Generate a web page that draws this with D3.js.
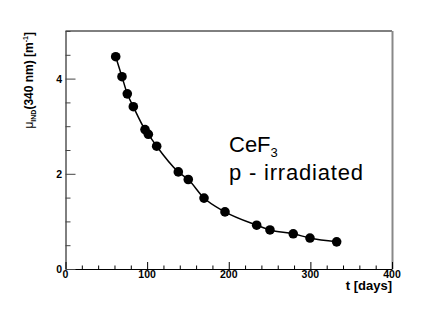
<!DOCTYPE html>
<html>
<head>
<meta charset="utf-8">
<script src="https://cdn.jsdelivr.net/npm/d3@7"></script>
<style>
  body { margin: 0; background: #fff; }
  text { font-family: "Liberation Sans", Arial, sans-serif; }
</style>
</head>
<body>
<div id="chart"></div>
<script>
// CONST and GLOBALS
let width = 436,
  height = 316;

// data: t [days] and mu_IND [1/m]
let days = [61.5, 69.2, 75.7, 83.1, 97.4, 101.5, 111.7, 138.2, 150.4, 169.7, 195.4, 234.2, 250.5, 279, 299.5, 332.2];
let mu = [4.46, 4.04, 3.68, 3.41, 2.93, 2.83, 2.58, 2.04, 1.88, 1.49, 1.2, 0.92, 0.82, 0.74, 0.65, 0.57];
let xTicks = [0, 100, 200, 300, 400];
let yTicks = [0, 2, 4];

let points = days.map((d, i) => ({ t: d, mu: mu[i] }));

let xScale = d3.scaleLinear().domain([0, 400]).range([65.5, 392]);
let yScale = d3.scaleLinear().domain([0, 5]).range([269, 31]);

let svg = d3
  .select('#chart')
  .append('svg')
  .attr('width', width)
  .attr('height', height);

// frame
svg.append('line')
  .attr('x1', xScale(0)).attr('x2', xScale(400))
  .attr('y1', yScale(5)).attr('y2', yScale(5))
  .attr('stroke', '#000').attr('stroke-width', 1);
svg.append('line')
  .attr('x1', xScale(400) + 0.5).attr('x2', xScale(400) + 0.5)
  .attr('y1', yScale(5)).attr('y2', yScale(0))
  .attr('stroke', '#888').attr('stroke-width', 2);

// x axis, ticks pointing up
let xAxis = d3.axisTop(xScale).tickValues(d3.range(0, 401, 20)).tickSizeOuter(0).tickFormat('');
let gx = svg.append('g')
  .attr('transform', `translate(0,${yScale(0)})`)
  .call(xAxis);
gx.selectAll('.tick line')
  .attr('y2', d => (d % 100 === 0 ? -7 : -3.5));
gx.select('.domain').attr('stroke', '#000');

svg.append('g')
  .selectAll('text')
  .data(xTicks)
  .join('text')
  .attr('x', d => xScale(d))
  .attr('y', 278)
  .attr('text-anchor', 'middle')
  .attr('font-size', 10.5)
  .attr('font-weight', 'bold')
  .text(d => d);

// y axis, ticks pointing right
let yAxis = d3.axisRight(yScale).tickValues(d3.range(0, 5.01, 0.5)).tickSizeOuter(0).tickFormat('');
let gy = svg.append('g')
  .attr('transform', `translate(${xScale(0)},0)`)
  .call(yAxis);
gy.selectAll('.tick line')
  .attr('x2', d => (d % 2 === 0 ? 10 : 5))
  .attr('stroke', '#444');
gy.select('.domain').attr('stroke', '#000');

svg.append('g')
  .selectAll('text')
  .data(yTicks)
  .join('text')
  .attr('x', 62)
  .attr('y', d => yScale(d) + 4)
  .attr('text-anchor', 'end')
  .attr('font-size', 10.5)
  .attr('font-weight', 'bold')
  .text(d => d);

// axis titles
svg.append('text')
  .attr('x', 392)
  .attr('y', 290)
  .attr('text-anchor', 'end')
  .attr('font-size', 13)
  .attr('font-weight', 'bold')
  .text('t [days]');

let yTitle = svg.append('text')
  .attr('transform', 'translate(33,32) rotate(-90)')
  .attr('text-anchor', 'end')
  .attr('font-size', 12)
  .attr('font-weight', 'bold');
yTitle.append('tspan').attr('font-weight', 'normal').text('μ');
yTitle.append('tspan').attr('font-size', 7).attr('dy', 3).text('IND');
yTitle.append('tspan').attr('dy', -3).text('(340 nm) [m');
yTitle.append('tspan').attr('font-size', 7).attr('dy', -5).text('-1');
yTitle.append('tspan').attr('dy', 5).text(']');

// curve through the measurements
let line = d3.line()
  .x(d => xScale(d.t))
  .y(d => yScale(d.mu))
  .curve(d3.curveMonotoneX);

svg.append('path')
  .datum(points)
  .attr('d', line)
  .attr('fill', 'none')
  .attr('stroke', '#000')
  .attr('stroke-width', 1.5);

svg.append('g')
  .selectAll('circle')
  .data(points)
  .join('circle')
  .attr('cx', d => xScale(d.t))
  .attr('cy', d => yScale(d.mu))
  .attr('r', 4.8)
  .attr('fill', '#000');

// labels
let lab = svg.append('text')
  .attr('x', 229)
  .attr('y', 152)
  .attr('font-size', 22);
lab.append('tspan').text('CeF');
lab.append('tspan').attr('font-size', 13).attr('dy', 5).text('3');

svg.append('text')
  .attr('x', 229)
  .attr('y', 180)
  .attr('font-size', 22)
  .attr('textLength', 134)
  .attr('lengthAdjust', 'spacing')
  .text('p - irradiated');
</script>
</body>
</html>
